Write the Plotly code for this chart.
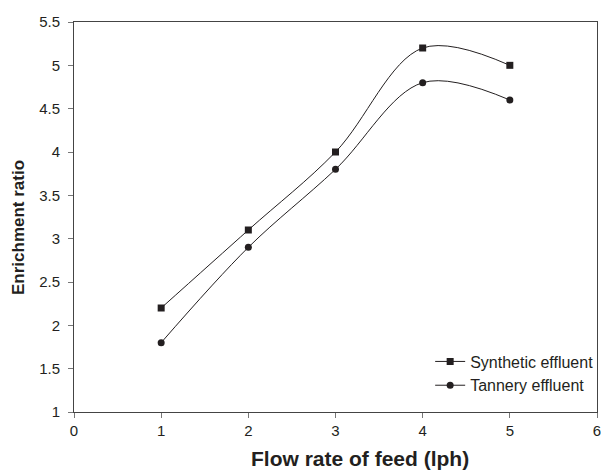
import plotly.graph_objects as go

flow = [1, 2, 3, 4, 5]
synthetic = [2.2, 3.1, 4.0, 5.2, 5.0]
tannery = [1.8, 2.9, 3.8, 4.8, 4.6]

x_ticks = [0, 1, 2, 3, 4, 5, 6]
y_ticks = [1, 1.5, 2, 2.5, 3, 3.5, 4, 4.5, 5, 5.5]
y_labels = ["1", "1.5", "2", "2.5", "3", "3.5", "4", "4.5", "5", "5.5"]

fig = go.Figure()
fig.add_trace(go.Scatter(x=flow, y=synthetic, mode="lines+markers", name="Synthetic effluent",
                         line=dict(color="#231f20", width=1, shape="spline", smoothing=1.0),
                         marker=dict(symbol="square", size=7, color="#231f20")))
fig.add_trace(go.Scatter(x=flow, y=tannery, mode="lines+markers", name="Tannery effluent",
                         line=dict(color="#231f20", width=1, shape="spline", smoothing=1.0),
                         marker=dict(symbol="circle", size=7, color="#231f20")))

axis_common = dict(showgrid=False, zeroline=False, showline=True, linecolor="#444444", linewidth=1,
                   mirror=True, ticks="outside", ticklen=5, tickcolor="#777777",
                   ticklabeloverflow="allow", automargin=False,
                   tickfont=dict(family="Liberation Sans, Arial", size=15, color="#231f20"))

fig.update_layout(
    width=601, height=470,
    margin=dict(l=74, r=4, t=22, b=58, autoexpand=False),
    paper_bgcolor="white", plot_bgcolor="white",
    font=dict(family="Liberation Sans, Arial", color="#231f20"),
    xaxis=dict(range=[0, 6], tickvals=x_ticks, ticktext=[str(t) for t in x_ticks], **axis_common),
    yaxis=dict(range=[1, 5.5], tickvals=y_ticks, ticktext=y_labels, ticklabelstandoff=5, **axis_common),
    legend=dict(x=0.681, xanchor="left", y=0.173, yanchor="top", bgcolor="rgba(0,0,0,0)",
                font=dict(size=16, color="#231f20"), tracegroupgap=0, itemwidth=30),
    showlegend=True,
    annotations=[
        dict(text="<b>Flow rate of feed (lph)</b>", xref="paper", yref="paper", x=0.547, y=-0.1205,
             xanchor="center", yanchor="middle", showarrow=False,
             font=dict(size=21, family="Liberation Sans, Arial", color="#231f20")),
        dict(text="<b>Enrichment ratio</b>", xref="paper", yref="paper", x=-0.105, y=0.472,
             xanchor="center", yanchor="middle", showarrow=False, textangle=-90,
             font=dict(size=17, family="Liberation Sans, Arial", color="#231f20")),
    ],
)

fig.write_html("out.html")
